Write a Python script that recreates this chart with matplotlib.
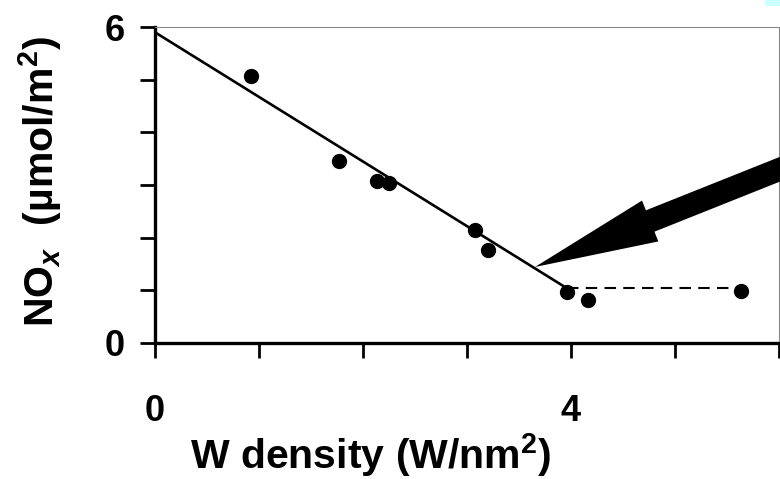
import matplotlib.pyplot as plt
import matplotlib.patches as mpatches

plt.rcParams['font.family'] = ['Liberation Sans', 'DejaVu Sans']
plt.rcParams['font.weight'] = 'bold'
plt.rcParams['mathtext.fontset'] = 'custom'
plt.rcParams['mathtext.rm'] = 'Liberation Sans:bold'
plt.rcParams['mathtext.it'] = 'Liberation Sans:bold:italic'
plt.rcParams['mathtext.bf'] = 'Liberation Sans:bold'

## data
w_density = [0.92, 1.77, 2.13, 2.25, 3.08, 3.20, 3.96, 4.16, 5.63]
nox = [5.07, 3.45, 3.07, 3.04, 2.14, 1.76, 0.97, 0.82, 0.99]

fit_x = [0.0, 3.96]
fit_y = [5.90, 1.04]
plateau_x = [3.96, 5.63]
plateau_y = [1.04, 1.04]

arrow_tail = (6.2, 3.45)
arrow_tip = (3.654, 1.443)

x_ticks = [0, 1, 2, 3, 4, 5, 6]
x_ticklabels = ['0', '', '', '', '4', '', '']
y_ticks = [0, 1, 2, 3, 4, 5, 6]
y_ticklabels = ['0', '', '', '', '', '', '6']

fig = plt.figure(figsize=(7.8, 4.79), dpi=100)
ax = fig.add_axes([0.1987, 0.284, 0.80, 0.6596])

ax.plot(fit_x, fit_y, color='black', lw=1.9, solid_capstyle='butt')
ax.plot(plateau_x, plateau_y, color='black', lw=1.5, dashes=(5.5, 3.5))
ax.plot(w_density, nox, 'o', color='black', ms=10, zorder=3)

# mutation_scale is in points: 14.4 pt = 20 px at 100 dpi
arr = mpatches.FancyArrowPatch(arrow_tail, arrow_tip,
                               arrowstyle='simple,head_length=6.2,head_width=2.2,tail_width=1.15',
                               mutation_scale=14.4, shrinkA=0, shrinkB=0,
                               color='black', lw=0, clip_on=False, zorder=4)
ax.add_patch(arr)

ax.set_xlim(0, 6)
ax.set_ylim(0, 6)
ax.set_xticks(x_ticks)
ax.set_xticklabels(x_ticklabels)
ax.set_yticks(y_ticks)
ax.set_yticklabels(y_ticklabels)

for s in ['left', 'bottom']:
    ax.spines[s].set_linewidth(2.4)
for s in ['top', 'right']:
    ax.spines[s].set_color('#888888')
    ax.spines[s].set_linewidth(0.8)

ax.tick_params(axis='both', direction='out', length=10.5, width=2,
               labelsize=26)
ax.tick_params(axis='y', pad=11)
ax.tick_params(axis='x', pad=26)

ax.set_xlabel(r'W density (W/nm$^{2}$)', fontsize=29.5, fontweight='bold', va='baseline')
ax.xaxis.set_label_coords(0.345, -0.398)
ax.set_ylabel(r'NO$_{\mathit{x}}$  (µmol/m$^{2}$)', fontsize=29.5, fontweight='bold', va='baseline')
ax.yaxis.set_label_coords(-0.163, 0.51)

# light cyan patch in the top right corner
fig.patches.append(mpatches.Rectangle((765 / 780, 1 - 6 / 479), 15 / 780, 6 / 479,
                                      transform=fig.transFigure, color='#ccffff', lw=0))

plt.savefig('out.png', dpi=100)
